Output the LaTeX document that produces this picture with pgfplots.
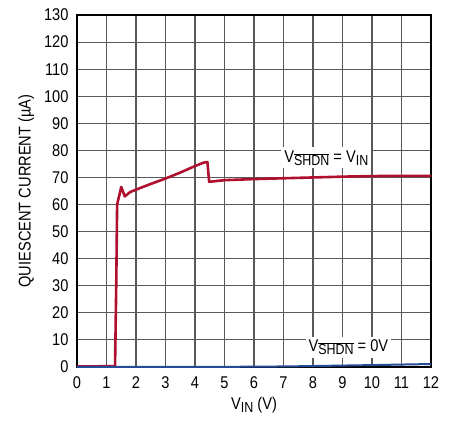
\documentclass[border=0pt]{standalone}
\usepackage{fontspec}
\setmainfont[FakeStretch=0.86]{Liberation Sans}
\usepackage{pgfplots}
\pgfplotsset{compat=1.18}
\definecolor{ltred}{RGB}{175,16,48}
\definecolor{ltblue}{RGB}{35,75,150}
\newcommand{\shdn}{\raisebox{-0.35ex}{\fontsize{14.5}{15}\selectfont$\overline{\mbox{SHDN}}$}}
\newcommand{\sub}[1]{\raisebox{-0.35ex}{\fontsize{14.5}{15}\selectfont #1}}
\begin{document}
\begin{tikzpicture}
\begin{axis}[
    scale only axis,
    width=354pt, height=352pt,
    xmin=0, xmax=12, ymin=0, ymax=130,
    xtick={0,1,...,12}, ytick={0,10,...,130},
    grid=major,
    grid style={black!65, line width=1.1pt},
    axis line style={black, line width=1.6pt},
    major tick length=0pt,
    tick label style={font=\fontsize{17}{19}\selectfont},
    xticklabel style={yshift=-6pt},
    yticklabel style={xshift=-5pt},
    /pgf/number format/assume math mode=true,
    xlabel={V\sub{IN} (V)},
    ylabel={QUIESCENT CURRENT (µA)},
    label style={font=\fontsize{17}{19}\selectfont},
    xlabel style={yshift=-2pt},
    ylabel style={yshift=3pt},
    clip=false,
]
\addplot[ltred, line width=2.6pt, line join=round] coordinates {
    (0,0.2) (1.29,0.3) (1.33,30) (1.36,60) (1.5,66.5) (1.62,63)
    (1.8,64.6) (2,65.5) (2.5,67.6) (3,69.6) (3.5,71.8) (4,74.2)
    (4.3,75.5) (4.42,75.7) (4.48,68.4) (5,69) (6,69.4) (7,69.7)
    (8,70) (9,70.3) (10,70.5) (11,70.6) (12,70.6)
};
\addplot[ltblue, line width=2pt] coordinates {
    (0,0) (5,0.05) (7,0.2) (8,0.35) (10,0.7) (11,0.9) (12,1.1)
};
\node[fill=white, inner sep=3pt, font=\fontsize{17}{19}\selectfont] at (axis cs:8.45,77.2) {V\shdn{} = V\sub{IN}};
\node[fill=white, inner sep=3pt, font=\fontsize{17}{19}\selectfont] at (axis cs:9.2,7.3) {V\shdn{} = 0V};
\end{axis}
\pgfresetboundingbox
\path (-77pt,-58pt) rectangle (379pt,367pt);
\end{tikzpicture}
\end{document}
